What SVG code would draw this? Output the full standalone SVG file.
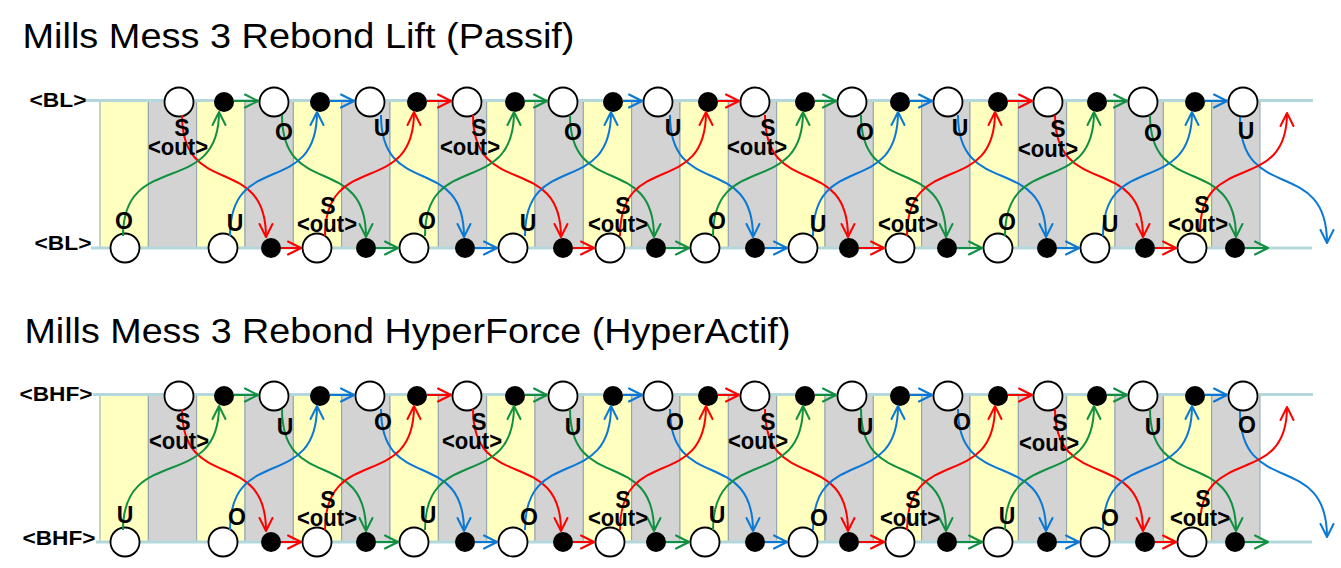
<svg xmlns="http://www.w3.org/2000/svg" width="1341" height="568" viewBox="0 0 1341 568">
<style>
.y{fill:#ffffc0;stroke:#8fa3ad;stroke-width:1}
.gr{fill:#d3d3d3;stroke:#8fa3ad;stroke-width:1}
.ln{stroke:#b3d7db;stroke-width:3;fill:none}
.w{fill:#fff;stroke:#000;stroke-width:1.8}
.b{fill:#000}
.c{fill:none;stroke-width:2}
.R{stroke:#ff0000;marker-end:url(#mr)}
.G{stroke:#109040;marker-end:url(#mg)}
.B{stroke:#0a78d4;marker-end:url(#mb)}
.t{font-family:"Liberation Sans",Arial,sans-serif;font-weight:bold;font-size:23px;text-anchor:middle;fill:#000}
.h{font-family:"Liberation Sans",Arial,sans-serif;font-size:35px;fill:#000}
.lb{font-family:"Liberation Sans",Arial,sans-serif;font-weight:bold;font-size:20px;fill:#000}
</style>
<defs>
<marker id="mr" markerUnits="userSpaceOnUse" orient="auto" overflow="visible" markerWidth="1" markerHeight="1"><path d="M-13,-6.5L0,0L-13,6.5" fill="none" stroke="#ff0000" stroke-width="2" stroke-linejoin="round" stroke-linecap="round"/></marker>
<marker id="mg" markerUnits="userSpaceOnUse" orient="auto" overflow="visible" markerWidth="1" markerHeight="1"><path d="M-13,-6.5L0,0L-13,6.5" fill="none" stroke="#109040" stroke-width="2" stroke-linejoin="round" stroke-linecap="round"/></marker>
<marker id="mb" markerUnits="userSpaceOnUse" orient="auto" overflow="visible" markerWidth="1" markerHeight="1"><path d="M-13,-6.5L0,0L-13,6.5" fill="none" stroke="#0a78d4" stroke-width="2" stroke-linejoin="round" stroke-linecap="round"/></marker>
</defs>
<rect width="1341" height="568" fill="#fff"/>

<!-- ===== Section 1 ===== -->
<g id="section1">
<text id="title1" class="h" x="22.5" y="48" textLength="552" lengthAdjust="spacingAndGlyphs">Mills Mess 3 Rebond Lift (Passif)</text>
<g id="stripes1">
<rect class="y" x="100" y="100" width="48.33" height="148"/>
<rect class="gr" x="148.33" y="100" width="48.33" height="148"/>
<rect class="y" x="196.67" y="100" width="48.33" height="148"/>
<rect class="gr" x="245" y="100" width="48.33" height="148"/>
<rect class="y" x="293.33" y="100" width="48.33" height="148"/>
<rect class="gr" x="341.67" y="100" width="48.33" height="148"/>
<rect class="y" x="390" y="100" width="48.33" height="148"/>
<rect class="gr" x="438.33" y="100" width="48.33" height="148"/>
<rect class="y" x="486.67" y="100" width="48.33" height="148"/>
<rect class="gr" x="535" y="100" width="48.33" height="148"/>
<rect class="y" x="583.33" y="100" width="48.33" height="148"/>
<rect class="gr" x="631.67" y="100" width="48.33" height="148"/>
<rect class="y" x="680" y="100" width="48.33" height="148"/>
<rect class="gr" x="728.33" y="100" width="48.33" height="148"/>
<rect class="y" x="776.67" y="100" width="48.33" height="148"/>
<rect class="gr" x="825" y="100" width="48.33" height="148"/>
<rect class="y" x="873.33" y="100" width="48.33" height="148"/>
<rect class="gr" x="921.67" y="100" width="48.33" height="148"/>
<rect class="y" x="970" y="100" width="48.33" height="148"/>
<rect class="gr" x="1018.33" y="100" width="48.33" height="148"/>
<rect class="y" x="1066.67" y="100" width="48.33" height="148"/>
<rect class="gr" x="1115" y="100" width="48.33" height="148"/>
<rect class="y" x="1163.33" y="100" width="48.33" height="148"/>
<rect class="gr" x="1211.67" y="100" width="48.33" height="148"/>
</g>
<g id="rails1">
<path class="ln" d="M86,100.5H1313"/>
<path class="ln" d="M91,248H1312"/>
<text class="lb" x="29.5" y="107" textLength="57" lengthAdjust="spacingAndGlyphs">&lt;BL&gt;</text>
<text class="lb" x="34.5" y="250" textLength="57" lengthAdjust="spacingAndGlyphs">&lt;BL&gt;</text>
</g>
<g id="nodes1">
<g id="s1-tw1"><circle class="w" cx="179" cy="102" r="14.5"/></g>
<g id="s1-tb1"><circle class="b" cx="224" cy="102" r="10"/></g>
<g id="s1-tw2"><circle class="w" cx="274" cy="102" r="14.5"/></g>
<g id="s1-tb2"><circle class="b" cx="320" cy="102" r="10"/></g>
<g id="s1-tw3"><circle class="w" cx="370" cy="102" r="14.5"/></g>
<g id="s1-tb3"><circle class="b" cx="417" cy="102" r="10"/></g>
<g id="s1-tw4"><circle class="w" cx="467" cy="102" r="14.5"/></g>
<g id="s1-tb4"><circle class="b" cx="515" cy="102" r="10"/></g>
<g id="s1-tw5"><circle class="w" cx="563" cy="102" r="14.5"/></g>
<g id="s1-tb5"><circle class="b" cx="613" cy="102" r="10"/></g>
<g id="s1-tw6"><circle class="w" cx="658" cy="102" r="14.5"/></g>
<g id="s1-tb6"><circle class="b" cx="708" cy="102" r="10"/></g>
<g id="s1-tw7"><circle class="w" cx="755" cy="102" r="14.5"/></g>
<g id="s1-tb7"><circle class="b" cx="805" cy="102" r="10"/></g>
<g id="s1-tw8"><circle class="w" cx="852" cy="102" r="14.5"/></g>
<g id="s1-tb8"><circle class="b" cx="900" cy="102" r="10"/></g>
<g id="s1-tw9"><circle class="w" cx="948" cy="102" r="14.5"/></g>
<g id="s1-tb9"><circle class="b" cx="998" cy="102" r="10"/></g>
<g id="s1-tw10"><circle class="w" cx="1048" cy="102" r="14.5"/></g>
<g id="s1-tb10"><circle class="b" cx="1097" cy="102" r="10"/></g>
<g id="s1-tw11"><circle class="w" cx="1143" cy="102" r="14.5"/></g>
<g id="s1-tb11"><circle class="b" cx="1195" cy="102" r="10"/></g>
<g id="s1-tw12"><circle class="w" cx="1243" cy="102" r="14.5"/></g>

<g id="s1-bw1"><circle class="w" cx="125" cy="248" r="14.5"/></g>
<g id="s1-bw2"><circle class="w" cx="223" cy="248" r="14.5"/></g>
<g id="s1-bb1"><circle class="b" cx="271" cy="248" r="10"/></g>
<g id="s1-bw3"><circle class="w" cx="317" cy="248" r="14.5"/></g>
<g id="s1-bb2"><circle class="b" cx="366" cy="248" r="10"/></g>
<g id="s1-bw4"><circle class="w" cx="414" cy="248" r="14.5"/></g>
<g id="s1-bb3"><circle class="b" cx="465" cy="248" r="10"/></g>
<g id="s1-bw5"><circle class="w" cx="513" cy="248" r="14.5"/></g>
<g id="s1-bb4"><circle class="b" cx="563" cy="248" r="10"/></g>
<g id="s1-bw6"><circle class="w" cx="610" cy="248" r="14.5"/></g>
<g id="s1-bb5"><circle class="b" cx="656" cy="248" r="10"/></g>
<g id="s1-bw7"><circle class="w" cx="705" cy="248" r="14.5"/></g>
<g id="s1-bb6"><circle class="b" cx="755" cy="248" r="10"/></g>
<g id="s1-bw8"><circle class="w" cx="803" cy="248" r="14.5"/></g>
<g id="s1-bb7"><circle class="b" cx="849" cy="248" r="10"/></g>
<g id="s1-bw9"><circle class="w" cx="900" cy="248" r="14.5"/></g>
<g id="s1-bb8"><circle class="b" cx="947" cy="248" r="10"/></g>
<g id="s1-bw10"><circle class="w" cx="998" cy="248" r="14.5"/></g>
<g id="s1-bb9"><circle class="b" cx="1047" cy="248" r="10"/></g>
<g id="s1-bw11"><circle class="w" cx="1095" cy="248" r="14.5"/></g>
<g id="s1-bb10"><circle class="b" cx="1145" cy="248" r="10"/></g>
<g id="s1-bw12"><circle class="w" cx="1192" cy="248" r="14.5"/></g>
<g id="s1-bb11"><circle class="b" cx="1235" cy="248" r="10"/></g>
</g>
<g id="connectors1">
<path class="c G" d="M234,101H258"/>
<path class="c B" d="M330,101H354"/>
<path class="c R" d="M427,101H451"/>
<path class="c G" d="M525,101H547"/>
<path class="c B" d="M623,101H642"/>
<path class="c R" d="M718,101H739"/>
<path class="c G" d="M815,101H836"/>
<path class="c B" d="M910,101H932"/>
<path class="c R" d="M1008,101H1032"/>
<path class="c G" d="M1107,101H1127"/>
<path class="c B" d="M1205,101H1227"/>
<path class="c R" d="M281,248H301"/>
<path class="c G" d="M376,248H398"/>
<path class="c B" d="M475,248H497"/>
<path class="c R" d="M573,248H594"/>
<path class="c G" d="M666,248H689"/>
<path class="c B" d="M765,248H787"/>
<path class="c R" d="M859,248H884"/>
<path class="c G" d="M957,248H982"/>
<path class="c B" d="M1057,248H1079"/>
<path class="c R" d="M1155,248H1176"/>
<path class="c G" d="M1245,248H1268"/>
<path class="c R" d="M182,115C182,200 266,152 266,237"/>
<path class="c G" d="M282,115C282,200 366,152 366,237"/>
<path class="c B" d="M381,115C381,200 464,152 464,237"/>
<path class="c R" d="M473,115C473,200 561,152 561,237"/>
<path class="c G" d="M570,115C570,200 654,152 654,237"/>
<path class="c B" d="M670,115C670,200 753,152 753,237"/>
<path class="c R" d="M765,115C765,200 848,152 848,237"/>
<path class="c G" d="M861,115C861,200 946,152 946,237"/>
<path class="c B" d="M958,115C958,200 1046,152 1046,237"/>
<path class="c R" d="M1055,115C1055,200 1143,152 1143,237"/>
<path class="c G" d="M1150,115C1150,200 1236,152 1236,237"/>
<path class="c B" d="M1240,117C1240,205 1327,155 1327,243"/>
<path class="c G" d="M123,236C123,149 219,199 219,112"/>
<path class="c B" d="M230,236C230,149 317,199 317,112"/>
<path class="c R" d="M325,236C325,149 414,199 414,112"/>
<path class="c G" d="M425,236C425,149 514,199 514,112"/>
<path class="c B" d="M525,236C525,149 611,199 611,112"/>
<path class="c R" d="M620,236C620,149 706,199 706,112"/>
<path class="c G" d="M713,236C713,149 803,199 803,112"/>
<path class="c B" d="M813,236C813,149 898,199 898,112"/>
<path class="c R" d="M907,236C907,149 995,199 995,112"/>
<path class="c G" d="M1005,236C1005,149 1094,199 1094,112"/>
<path class="c B" d="M1103,236C1103,149 1192,199 1192,112"/>
<path class="c R" d="M1200,232C1200,149 1287,196 1287,113"/>
</g>
<g id="labels1">
<text class="t" x="182" y="136">S</text><text class="t" x="178" y="155" textLength="60" lengthAdjust="spacingAndGlyphs">&lt;out&gt;</text>
<text class="t" x="284" y="140">O</text>
<text class="t" x="382" y="136">U</text>
<text class="t" x="479" y="136">S</text><text class="t" x="470" y="155" textLength="60" lengthAdjust="spacingAndGlyphs">&lt;out&gt;</text>
<text class="t" x="573" y="140">O</text>
<text class="t" x="673" y="136">U</text>
<text class="t" x="768" y="136">S</text><text class="t" x="757" y="155" textLength="60" lengthAdjust="spacingAndGlyphs">&lt;out&gt;</text>
<text class="t" x="865" y="140">O</text>
<text class="t" x="960" y="136">U</text>
<text class="t" x="1058" y="137">S</text><text class="t" x="1048" y="157" textLength="60" lengthAdjust="spacingAndGlyphs">&lt;out&gt;</text>
<text class="t" x="1153" y="141">O</text>
<text class="t" x="1246" y="139">U</text>
<text class="t" x="124" y="229">O</text>
<text class="t" x="235" y="231">U</text>
<text class="t" x="328" y="214">S</text><text class="t" x="327" y="232" textLength="60" lengthAdjust="spacingAndGlyphs">&lt;out&gt;</text>
<text class="t" x="427" y="229">O</text>
<text class="t" x="528" y="231">U</text>
<text class="t" x="623" y="214">S</text><text class="t" x="618" y="232" textLength="60" lengthAdjust="spacingAndGlyphs">&lt;out&gt;</text>
<text class="t" x="717" y="229">O</text>
<text class="t" x="818" y="232">U</text>
<text class="t" x="912" y="214">S</text><text class="t" x="908" y="232" textLength="60" lengthAdjust="spacingAndGlyphs">&lt;out&gt;</text>
<text class="t" x="1007" y="230">O</text>
<text class="t" x="1110" y="232">U</text>
<text class="t" x="1202" y="213">S</text><text class="t" x="1198" y="232" textLength="60" lengthAdjust="spacingAndGlyphs">&lt;out&gt;</text>
</g>
</g>

<!-- ===== Section 2 ===== -->
<g id="section2">
<text id="title2" class="h" x="24.5" y="342.5" textLength="766" lengthAdjust="spacingAndGlyphs">Mills Mess 3 Rebond HyperForce (HyperActif)</text>
<g transform="translate(0,294)">
<g id="stripes2">
<rect class="y" x="100" y="100" width="48.33" height="148"/>
<rect class="gr" x="148.33" y="100" width="48.33" height="148"/>
<rect class="y" x="196.67" y="100" width="48.33" height="148"/>
<rect class="gr" x="245" y="100" width="48.33" height="148"/>
<rect class="y" x="293.33" y="100" width="48.33" height="148"/>
<rect class="gr" x="341.67" y="100" width="48.33" height="148"/>
<rect class="y" x="390" y="100" width="48.33" height="148"/>
<rect class="gr" x="438.33" y="100" width="48.33" height="148"/>
<rect class="y" x="486.67" y="100" width="48.33" height="148"/>
<rect class="gr" x="535" y="100" width="48.33" height="148"/>
<rect class="y" x="583.33" y="100" width="48.33" height="148"/>
<rect class="gr" x="631.67" y="100" width="48.33" height="148"/>
<rect class="y" x="680" y="100" width="48.33" height="148"/>
<rect class="gr" x="728.33" y="100" width="48.33" height="148"/>
<rect class="y" x="776.67" y="100" width="48.33" height="148"/>
<rect class="gr" x="825" y="100" width="48.33" height="148"/>
<rect class="y" x="873.33" y="100" width="48.33" height="148"/>
<rect class="gr" x="921.67" y="100" width="48.33" height="148"/>
<rect class="y" x="970" y="100" width="48.33" height="148"/>
<rect class="gr" x="1018.33" y="100" width="48.33" height="148"/>
<rect class="y" x="1066.67" y="100" width="48.33" height="148"/>
<rect class="gr" x="1115" y="100" width="48.33" height="148"/>
<rect class="y" x="1163.33" y="100" width="48.33" height="148"/>
<rect class="gr" x="1211.67" y="100" width="48.33" height="148"/>
</g>
<g id="rails2">
<path class="ln" d="M93,100.5H1313"/>
<path class="ln" d="M96,248H1312"/>
<text class="lb" x="19.5" y="107" textLength="73" lengthAdjust="spacingAndGlyphs">&lt;BHF&gt;</text>
<text class="lb" x="22.5" y="251" textLength="73" lengthAdjust="spacingAndGlyphs">&lt;BHF&gt;</text>
</g>
<g id="nodes2">
<g id="s2-tw1"><circle class="w" cx="179" cy="102" r="14.5"/></g>
<g id="s2-tb1"><circle class="b" cx="224" cy="102" r="10"/></g>
<g id="s2-tw2"><circle class="w" cx="274" cy="102" r="14.5"/></g>
<g id="s2-tb2"><circle class="b" cx="320" cy="102" r="10"/></g>
<g id="s2-tw3"><circle class="w" cx="370" cy="102" r="14.5"/></g>
<g id="s2-tb3"><circle class="b" cx="417" cy="102" r="10"/></g>
<g id="s2-tw4"><circle class="w" cx="467" cy="102" r="14.5"/></g>
<g id="s2-tb4"><circle class="b" cx="515" cy="102" r="10"/></g>
<g id="s2-tw5"><circle class="w" cx="563" cy="102" r="14.5"/></g>
<g id="s2-tb5"><circle class="b" cx="613" cy="102" r="10"/></g>
<g id="s2-tw6"><circle class="w" cx="658" cy="102" r="14.5"/></g>
<g id="s2-tb6"><circle class="b" cx="708" cy="102" r="10"/></g>
<g id="s2-tw7"><circle class="w" cx="755" cy="102" r="14.5"/></g>
<g id="s2-tb7"><circle class="b" cx="805" cy="102" r="10"/></g>
<g id="s2-tw8"><circle class="w" cx="852" cy="102" r="14.5"/></g>
<g id="s2-tb8"><circle class="b" cx="900" cy="102" r="10"/></g>
<g id="s2-tw9"><circle class="w" cx="948" cy="102" r="14.5"/></g>
<g id="s2-tb9"><circle class="b" cx="998" cy="102" r="10"/></g>
<g id="s2-tw10"><circle class="w" cx="1048" cy="102" r="14.5"/></g>
<g id="s2-tb10"><circle class="b" cx="1097" cy="102" r="10"/></g>
<g id="s2-tw11"><circle class="w" cx="1143" cy="102" r="14.5"/></g>
<g id="s2-tb11"><circle class="b" cx="1195" cy="102" r="10"/></g>
<g id="s2-tw12"><circle class="w" cx="1243" cy="102" r="14.5"/></g>

<g id="s2-bw1"><circle class="w" cx="125" cy="248" r="14.5"/></g>
<g id="s2-bw2"><circle class="w" cx="223" cy="248" r="14.5"/></g>
<g id="s2-bb1"><circle class="b" cx="271" cy="248" r="10"/></g>
<g id="s2-bw3"><circle class="w" cx="317" cy="248" r="14.5"/></g>
<g id="s2-bb2"><circle class="b" cx="366" cy="248" r="10"/></g>
<g id="s2-bw4"><circle class="w" cx="414" cy="248" r="14.5"/></g>
<g id="s2-bb3"><circle class="b" cx="465" cy="248" r="10"/></g>
<g id="s2-bw5"><circle class="w" cx="513" cy="248" r="14.5"/></g>
<g id="s2-bb4"><circle class="b" cx="563" cy="248" r="10"/></g>
<g id="s2-bw6"><circle class="w" cx="610" cy="248" r="14.5"/></g>
<g id="s2-bb5"><circle class="b" cx="656" cy="248" r="10"/></g>
<g id="s2-bw7"><circle class="w" cx="705" cy="248" r="14.5"/></g>
<g id="s2-bb6"><circle class="b" cx="755" cy="248" r="10"/></g>
<g id="s2-bw8"><circle class="w" cx="803" cy="248" r="14.5"/></g>
<g id="s2-bb7"><circle class="b" cx="849" cy="248" r="10"/></g>
<g id="s2-bw9"><circle class="w" cx="900" cy="248" r="14.5"/></g>
<g id="s2-bb8"><circle class="b" cx="947" cy="248" r="10"/></g>
<g id="s2-bw10"><circle class="w" cx="998" cy="248" r="14.5"/></g>
<g id="s2-bb9"><circle class="b" cx="1047" cy="248" r="10"/></g>
<g id="s2-bw11"><circle class="w" cx="1095" cy="248" r="14.5"/></g>
<g id="s2-bb10"><circle class="b" cx="1145" cy="248" r="10"/></g>
<g id="s2-bw12"><circle class="w" cx="1192" cy="248" r="14.5"/></g>
<g id="s2-bb11"><circle class="b" cx="1235" cy="248" r="10"/></g>
</g>
<g id="connectors2">
<path class="c G" d="M234,101H258"/>
<path class="c B" d="M330,101H354"/>
<path class="c R" d="M427,101H451"/>
<path class="c G" d="M525,101H547"/>
<path class="c B" d="M623,101H642"/>
<path class="c R" d="M718,101H739"/>
<path class="c G" d="M815,101H836"/>
<path class="c B" d="M910,101H932"/>
<path class="c R" d="M1008,101H1032"/>
<path class="c G" d="M1107,101H1127"/>
<path class="c B" d="M1205,101H1227"/>
<path class="c R" d="M281,248H301"/>
<path class="c G" d="M376,248H398"/>
<path class="c B" d="M475,248H497"/>
<path class="c R" d="M573,248H594"/>
<path class="c G" d="M666,248H689"/>
<path class="c B" d="M765,248H787"/>
<path class="c R" d="M859,248H884"/>
<path class="c G" d="M957,248H982"/>
<path class="c B" d="M1057,248H1079"/>
<path class="c R" d="M1155,248H1176"/>
<path class="c G" d="M1245,248H1268"/>
<path class="c R" d="M182,115C182,200 266,152 266,237"/>
<path class="c G" d="M282,115C282,200 366,152 366,237"/>
<path class="c B" d="M381,115C381,200 464,152 464,237"/>
<path class="c R" d="M473,115C473,200 561,152 561,237"/>
<path class="c G" d="M570,115C570,200 654,152 654,237"/>
<path class="c B" d="M670,115C670,200 753,152 753,237"/>
<path class="c R" d="M765,115C765,200 848,152 848,237"/>
<path class="c G" d="M861,115C861,200 946,152 946,237"/>
<path class="c B" d="M958,115C958,200 1046,152 1046,237"/>
<path class="c R" d="M1055,115C1055,200 1143,152 1143,237"/>
<path class="c G" d="M1150,115C1150,200 1236,152 1236,237"/>
<path class="c B" d="M1240,117C1240,205 1327,155 1327,243"/>
<path class="c G" d="M123,236C123,149 219,199 219,112"/>
<path class="c B" d="M230,236C230,149 317,199 317,112"/>
<path class="c R" d="M325,236C325,149 414,199 414,112"/>
<path class="c G" d="M425,236C425,149 514,199 514,112"/>
<path class="c B" d="M525,236C525,149 611,199 611,112"/>
<path class="c R" d="M620,236C620,149 706,199 706,112"/>
<path class="c G" d="M713,236C713,149 803,199 803,112"/>
<path class="c B" d="M813,236C813,149 898,199 898,112"/>
<path class="c R" d="M907,236C907,149 995,199 995,112"/>
<path class="c G" d="M1005,236C1005,149 1094,199 1094,112"/>
<path class="c B" d="M1103,236C1103,149 1192,199 1192,112"/>
<path class="c R" d="M1200,232C1200,149 1287,196 1287,113"/>
</g>
<g id="labels2">
<text class="t" x="183" y="136">S</text><text class="t" x="179" y="155" textLength="60" lengthAdjust="spacingAndGlyphs">&lt;out&gt;</text>
<text class="t" x="285" y="141">U</text>
<text class="t" x="383" y="136">O</text>
<text class="t" x="479" y="136">S</text><text class="t" x="472" y="155" textLength="60" lengthAdjust="spacingAndGlyphs">&lt;out&gt;</text>
<text class="t" x="573" y="141">U</text>
<text class="t" x="675" y="136">O</text>
<text class="t" x="768" y="136">S</text><text class="t" x="758" y="155" textLength="60" lengthAdjust="spacingAndGlyphs">&lt;out&gt;</text>
<text class="t" x="865" y="141">U</text>
<text class="t" x="962" y="136">O</text>
<text class="t" x="1060" y="137">S</text><text class="t" x="1049" y="157" textLength="60" lengthAdjust="spacingAndGlyphs">&lt;out&gt;</text>
<text class="t" x="1153" y="141">U</text>
<text class="t" x="1247" y="139">O</text>
<text class="t" x="125" y="229">U</text>
<text class="t" x="237" y="231">O</text>
<text class="t" x="328" y="214">S</text><text class="t" x="327" y="232" textLength="60" lengthAdjust="spacingAndGlyphs">&lt;out&gt;</text>
<text class="t" x="428" y="229">U</text>
<text class="t" x="529" y="231">O</text>
<text class="t" x="623" y="214">S</text><text class="t" x="618" y="232" textLength="60" lengthAdjust="spacingAndGlyphs">&lt;out&gt;</text>
<text class="t" x="717" y="229">U</text>
<text class="t" x="819" y="232">O</text>
<text class="t" x="913" y="214">S</text><text class="t" x="910" y="232" textLength="60" lengthAdjust="spacingAndGlyphs">&lt;out&gt;</text>
<text class="t" x="1007" y="230">U</text>
<text class="t" x="1110" y="232">O</text>
<text class="t" x="1203" y="213">S</text><text class="t" x="1200" y="232" textLength="60" lengthAdjust="spacingAndGlyphs">&lt;out&gt;</text>
</g>
</g>
</g>
</svg>
